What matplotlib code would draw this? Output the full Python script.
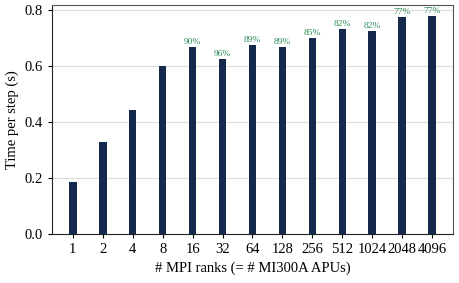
import numpy as np
import matplotlib as mpl
import matplotlib.pyplot as plt

mpl.rcParams['font.family'] = ['Liberation Serif', 'DejaVu Serif']
mpl.rcParams['font.size'] = 10.5

# data
ranks = ['1', '2', '4', '8', '16', '32', '64', '128', '256', '512', '1024', '2048', '4096']
time_per_step = [0.185, 0.330, 0.444, 0.600, 0.667, 0.624, 0.674, 0.669,
                 0.700, 0.732, 0.726, 0.776, 0.779]
efficiency = [None, None, None, None, '90%', '96%', '89%', '89%',
              '85%', '82%', '82%', '77%', '77%']

fig, ax = plt.subplots(figsize=(4.59, 2.83), dpi=100)
x = np.arange(len(ranks))
ax.bar(x, time_per_step, width=0.25, color='#14294b', zorder=3)

for xi, yi, lab in zip(x, time_per_step, efficiency):
    if lab:
        ax.text(xi, yi + 0.004, lab, ha='center', va='bottom',
                fontsize=6.8, color='#2e8b57')

ax.set_xticks(x)
ax.set_xticklabels(ranks)
ax.set_xlim(-0.7, 12.7)
ax.set_ylim(0, 0.818)
ax.set_yticks([0.0, 0.2, 0.4, 0.6, 0.8])
ax.yaxis.grid(True, color='#dddddd', linewidth=0.8, zorder=0)
ax.set_xlabel('# MPI ranks (= # MI300A APUs)')
ax.set_ylabel('Time per step (s)')
for s in ['left', 'bottom']:
    ax.spines[s].set_color('#222222')
for s in ['top', 'right']:
    ax.spines[s].set_color('#555555')
ax.tick_params(direction='out', length=3)

plt.subplots_adjust(left=0.113, right=0.987, top=0.982, bottom=0.173)
fig.savefig('out.png', dpi=100)
